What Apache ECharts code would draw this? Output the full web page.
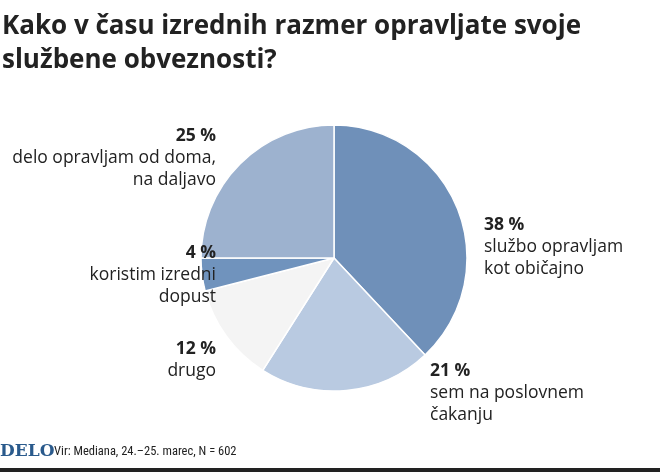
<!DOCTYPE html><html><head><meta charset="utf-8"><script src="https://cdn.jsdelivr.net/npm/echarts@6/dist/echarts.min.js"></script>
<style>html,body{margin:0;background:#fff}#c{width:660px;height:472px}</style></head><body><div id="c"></div><script>
const categories=['službo opravljam\nkot običajno','sem na poslovnem\nčakanju','drugo','koristim izredni\ndopust','delo opravljam od doma,\nna daljavo'];
const values=[38,21,12,4,25];
const colors=['#6f90b9','#b9cae1','#f4f4f4','#7093bd','#9db2cf'];
const labelPos=[[484,214,'left'],[430,360,'left'],[216,338,'right'],[216,242,'right'],[216,125,'right']];
const chart=echarts.init(document.getElementById('c'));
const F='"Open Sans","Noto Sans",sans-serif';
const graphics=[
 {type:'text',left:2,top:10,z:100,style:{text:'Kako v času izrednih razmer opravljate svoje\nslužbene obveznosti?',font:'bold 26px '+F,fill:'#222',lineHeight:34}},
 {type:'text',left:0,top:443,z:100,style:{text:'DELO',font:'bold 17px "DejaVu Serif",serif',fill:'#2a5a8c'}},
 {type:'text',left:54,top:445,z:100,style:{text:'Vir: Mediana, 24.–25. marec, N = 602',font:'12.5px "Liberation Sans Narrow","Roboto Condensed",sans-serif',fill:'#222'}},
 {type:'rect',z:100,shape:{x:0,y:468,width:660,height:4},style:{fill:'#222'}}
];
categories.forEach((c,i)=>{const p=labelPos[i];graphics.push({type:'text',z:100,x:p[0],y:p[1],style:{text:'{b|'+values[i]+' %}\n{n|'+c+'}',align:p[2],fill:'#222',rich:{b:{font:'bold 17.5px '+F,lineHeight:22,align:p[2]},n:{font:'17.5px '+F,lineHeight:22,align:p[2]}}}});});
chart.setOption({animation:false,graphic:graphics,series:[{type:'pie',z:1,center:[334,258],radius:[0,133],startAngle:90,clockwise:true,label:{show:false},itemStyle:{borderColor:'#fff',borderWidth:1.5},
 data:categories.map((c,i)=>({name:c,value:values[i],itemStyle:{color:colors[i]}}))}]});
</script></body></html>
